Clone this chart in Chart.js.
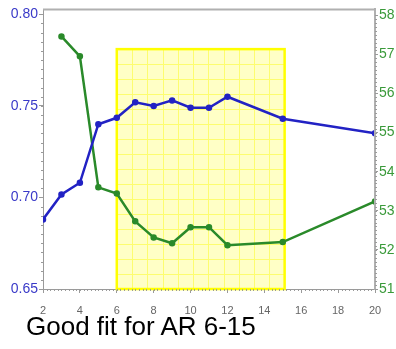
<!DOCTYPE html>
<html>
<head>
<meta charset="utf-8">
<script src="https://cdn.jsdelivr.net/npm/chart.js@4/dist/chart.umd.min.js"></script>
<style>
  body { margin: 0; background: #fff; }
  #wrap { position: relative; width: 396px; height: 349px; }
  #caption {
    position: absolute; left: 26px; top: 313px;
    font: 26px 'Liberation Sans', Arial, sans-serif; line-height: 26px; color: #000;
  }
</style>
</head>
<body>
<div id="wrap">
  <canvas id="arChart" width="396" height="349"></canvas>
  <div id="caption">Good fit for AR 6-15</div>
</div>
<script>
// data
const blueX = [2, 3, 4, 5, 6, 7, 8, 9, 10, 11, 12, 15, 20];
const blueValues = [0.688, 0.7016, 0.708, 0.740, 0.7435, 0.752, 0.750, 0.753, 0.749, 0.749, 0.755, 0.743, 0.735];
const greenX = [3, 4, 5, 6, 7, 8, 9, 10, 11, 12, 15, 20];
const greenValues = [57.46, 56.95, 53.60, 53.44, 52.73, 52.32, 52.17, 52.58, 52.58, 52.12, 52.20, 53.24];

const xTicks = [2, 4, 6, 8, 10, 12, 14, 16, 18, 20];
const leftTicks = [0.65, 0.70, 0.75, 0.80];
const rightTicks = [51, 52, 53, 54, 55, 56, 57, 58];

// highlighted range (AR 6-15)
const boxRange = { x0: 6, x1: 15.1, y0: 0.65, y1: 0.781 };
const boxCols = 11;
const boxRows = 16;

const BLUE = '#2222c4';
const GREEN = '#2a8a2a';
const AXIS = '#9a9a9a';

const toPoints = (xs, ys) => xs.map((x, i) => ({ x, y: ys[i] }));

const highlightBox = {
    id: 'highlightBox',
    beforeDatasetsDraw(chart) {
        const { ctx, scales } = chart;
        const x0 = scales.x.getPixelForValue(boxRange.x0);
        const x1 = scales.x.getPixelForValue(boxRange.x1);
        const y0 = scales.yLeft.getPixelForValue(boxRange.y0);
        const y1 = scales.yLeft.getPixelForValue(boxRange.y1);
        ctx.save();
        ctx.fillStyle = '#ffffc6';
        ctx.fillRect(x0, y1, x1 - x0, y0 - y1);
        ctx.strokeStyle = '#fdfd70';
        ctx.lineWidth = 1;
        ctx.beginPath();
        for (let i = 1; i < boxCols; i++) {
            const x = Math.round(x0 + (x1 - x0) * i / boxCols) + 0.5;
            ctx.moveTo(x, y1);
            ctx.lineTo(x, y0);
        }
        for (let j = 1; j < boxRows; j++) {
            const y = Math.round(y0 - (y0 - y1) * j / boxRows) + 0.5;
            ctx.moveTo(x0, y);
            ctx.lineTo(x1, y);
        }
        ctx.stroke();
        ctx.strokeStyle = '#ffff00';
        ctx.lineWidth = 2.5;
        ctx.strokeRect(x0, y1, x1 - x0, y0 - y1);
        ctx.restore();
    }
};

const frameAndMinorTicks = {
    id: 'frameAndMinorTicks',
    afterDraw(chart) {
        const { ctx, chartArea: a, scales } = chart;
        ctx.save();
        ctx.strokeStyle = '#b0b0b0';
        ctx.lineWidth = 2;
        ctx.beginPath();
        ctx.moveTo(a.left, a.top);
        ctx.lineTo(a.right, a.top);
        ctx.lineTo(a.right, a.bottom);
        ctx.stroke();

        ctx.strokeStyle = AXIS;
        ctx.lineWidth = 1;
        ctx.beginPath();
        for (let v = 0.65; v <= 0.8001; v += 0.005) {
            const y = Math.round(scales.yLeft.getPixelForValue(v)) + 0.5;
            ctx.moveTo(a.left - 2, y);
            ctx.lineTo(a.left, y);
        }
        for (let v = 51; v <= 58.001; v += 0.1) {
            const y = Math.round(scales.yRight.getPixelForValue(v)) + 0.5;
            ctx.moveTo(a.right, y);
            ctx.lineTo(a.right + 2, y);
        }
        for (let v = 2; v <= 20.001; v += 0.2) {
            const x = Math.round(scales.x.getPixelForValue(v)) + 0.5;
            ctx.moveTo(x, a.bottom);
            ctx.lineTo(x, a.bottom + 2);
        }
        ctx.stroke();
        ctx.restore();
    }
};

new Chart(document.getElementById('arChart'), {
    type: 'line',
    data: {
        datasets: [
            {
                data: toPoints(blueX, blueValues),
                yAxisID: 'yLeft',
                borderColor: BLUE,
                backgroundColor: BLUE,
                borderWidth: 2.5,
                pointRadius: 2,
                pointHoverRadius: 2,
                tension: 0
            },
            {
                data: toPoints(greenX, greenValues),
                yAxisID: 'yRight',
                borderColor: GREEN,
                backgroundColor: GREEN,
                borderWidth: 2.5,
                pointRadius: 2,
                pointHoverRadius: 2,
                tension: 0
            }
        ]
    },
    options: {
        responsive: false,
        animation: false,
        layout: { padding: { top: 8, bottom: 29, left: 0, right: 0 } },
        plugins: { legend: { display: false }, tooltip: { enabled: false } },
        scales: {
            x: {
                type: 'linear',
                min: 2,
                max: 20,
                afterBuildTicks: (s) => { s.ticks = xTicks.map(v => ({ value: v })); },
                afterFit: (s) => { s.height = 31; },
                grid: { drawOnChartArea: false, tickLength: 4, color: AXIS },
                border: { color: AXIS, width: 1 },
                ticks: {
                    padding: 11,
                    maxRotation: 0,
                    color: '#666',
                    font: { family: "'Liberation Sans', Arial, sans-serif", size: 11 }
                }
            },
            yLeft: {
                type: 'linear',
                position: 'left',
                min: 0.65,
                max: 0.8027,
                afterBuildTicks: (s) => { s.ticks = leftTicks.map(v => ({ value: v })); },
                afterFit: (s) => { s.width = 43; },
                grid: { drawOnChartArea: false, tickLength: 4, color: AXIS },
                border: { color: AXIS, width: 1 },
                ticks: {
                    padding: 1,
                    color: '#3a3ac8',
                    font: { family: "'Liberation Sans', Arial, sans-serif", size: 14 },
                    callback: (v) => Number(v).toFixed(2)
                }
            },
            yRight: {
                type: 'linear',
                position: 'right',
                min: 51,
                max: 58.15,
                afterBuildTicks: (s) => { s.ticks = rightTicks.map(v => ({ value: v })); },
                afterFit: (s) => { s.width = 21; },
                grid: { drawOnChartArea: false, tickLength: 3, color: AXIS },
                border: { color: '#b0b0b0', width: 2 },
                ticks: {
                    padding: 1,
                    color: '#3a9a3a',
                    font: { family: "'Liberation Sans', Arial, sans-serif", size: 14 }
                }
            }
        }
    },
    plugins: [highlightBox, frameAndMinorTicks]
});
</script>
</body>
</html>
